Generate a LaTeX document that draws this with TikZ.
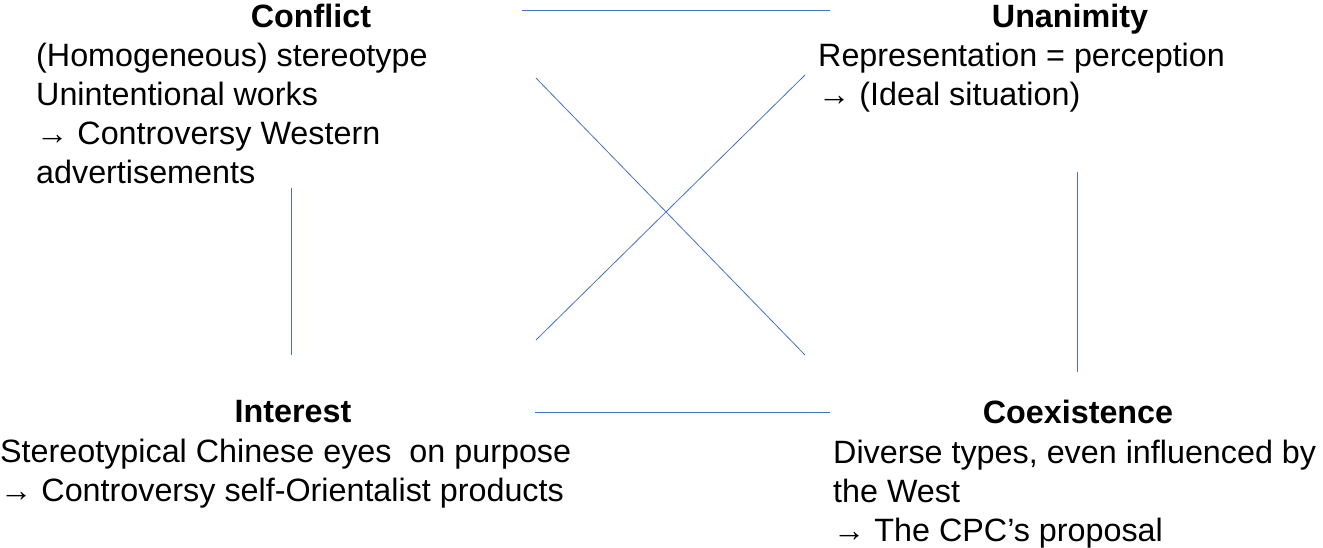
\documentclass[tikz,border=0pt]{standalone}
\usepackage{fontspec}
\setmainfont{Liberation Sans}
\usetikzlibrary{positioning}
\definecolor{linkblue}{HTML}{4472C4}

\begin{document}
\begin{tikzpicture}[x=1pt, y=-1pt,
    title/.style = {font=\bfseries\fontsize{32.3}{39}\selectfont, inner sep=0pt, anchor=base},
    body/.style = {font=\fontsize{32.3}{39}\selectfont, align=left, inner sep=0pt, anchor=base west},
    link/.style = {draw=linkblue, line width=0.8pt}]
    \useasboundingbox (0,0) rectangle (1323,548);

    % quadrant titles
    \node[title] (conflict) at (311,28) {Conflict};
    \node[title] (unanimity) at (1070,28) {Unanimity};
    \node[title] (interest) at (293,422) {Interest};
    \node[title] (coexist) at (1078,423) {Coexistence};

    % quadrant texts (placed at the baseline of their last line)
    \node[body] (conflictTxt) at (36,184) {(Homogeneous) stereotype\\Unintentional works\\→ Controversy Western\\advertisements};
    \node[body] (unanimityTxt) at (818,106) {Representation = perception\\→ (Ideal situation)};
    \node[body] (interestTxt) at (0,501) {Stereotypical Chinese eyes\ \ on purpose\\→ Controversy self-Orientalist products};
    \node[body] (coexistTxt) at (833,541) {Diverse types, even influenced by\\the West\\→ The CPC's proposal};

    % end points of the links
    \coordinate (t1) at (522,10);  \coordinate (t2) at (830,10);
    \coordinate (b1) at (535,412); \coordinate (b2) at (830,412);
    \coordinate (l1) at (291,188); \coordinate (l2) at (291,355);
    \coordinate (r1) at (1077,172); \coordinate (r2) at (1077,372);
    \coordinate (d1) at (536,78);  \coordinate (d2) at (805,355);
    \coordinate (e1) at (536,340); \coordinate (e2) at (805,75);

    \draw[link] (t1) -- (t2);
    \draw[link] (b1) -- (b2);
    \draw[link] (l1) -- (l2);
    \draw[link] (r1) -- (r2);
    \draw[link] (d1) -- (d2);
    \draw[link] (e1) -- (e2);
\end{tikzpicture}
\end{document}
